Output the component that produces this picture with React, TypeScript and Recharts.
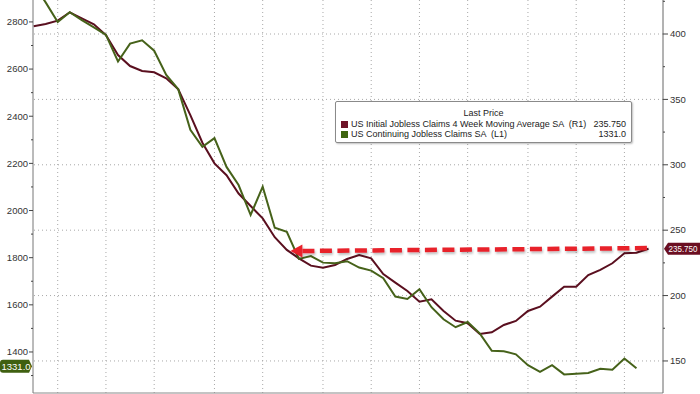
import React from 'react';
import { ComposedChart, Line, XAxis, YAxis, ReferenceLine, Legend } from 'recharts';

// Weekly observations (index = week number in the window)
const weeks = Array.from({ length: 52 }, (_, i) => i);

// US Initial Jobless Claims 4 Week Moving Average SA (thousands, right axis)
const initialClaims4wk = [
  406, 407.6, 410.2, 416.6, 412, 407.4, 399.2, 383.9, 375.5, 371.7,
  370.7, 366.1, 357.7, 338, 316.9, 301.1, 292, 278, 268.5, 259,
  244.6, 234.9, 228.5, 222.9, 221.3, 223.4, 228, 231, 228.5, 216.5,
  209.9, 203.5, 195.3, 197.2, 188.2, 180.8, 178.8, 170.6, 171.9, 177.5,
  180.6, 188.2, 191.5, 199.2, 206.8, 206.8, 215.7, 219.6, 224.7, 232.3,
  232.8, 235.75,
];

// US Continuing Jobless Claims SA (thousands, left axis)
const continuingClaims: (number | null)[] = [
  2960, 2883, 2800, 2841, 2808, 2777, 2745, 2632, 2708, 2722,
  2678, 2575, 2514, 2342, 2270, 2307, 2185, 2108, 1981, 2101,
  1927, 1910, 1795, 1807, 1779, 1776, 1785, 1758, 1745, 1713,
  1635, 1625, 1666, 1590, 1539, 1505, 1527, 1479, 1405, 1403,
  1390, 1344, 1316, 1344, 1305, 1308, 1311, 1329, 1325, 1372,
  1331, null,
];

const monthStarts = [2, 6, 10, 15, 19, 24, 28, 32, 36, 41, 45, 49];
const leftTicks = [1300, 1400, 1500, 1600, 1700, 1800, 1900, 2000, 2100, 2200, 2300, 2400, 2500, 2600, 2700, 2800];
const rightTicks = [150, 175, 200, 225, 250, 275, 300, 325, 350, 375, 400, 425];
const rightGridValues = [150, 200, 250, 300, 350, 400];

const xDomain = [-0.05, 52.2];
const leftDomain = [1226, 2893];
const rightDomain = [125.5, 426];

const lastInitial = 235.75;
const lastContinuing = 1331.0;
const lastInitialLabel = '235.750';
const lastContinuingLabel = '1331.0';

const arrowFrom = { week: 21.3, value: 234 };
const arrowTo = { week: 51, value: 236.3 };

const legendTitle = 'Last Price';
const legendRows = [
  { name: 'US Initial Jobless Claims 4 Week Moving Average SA  (R1)', value: lastInitialLabel, color: '#6e1428' },
  { name: 'US Continuing Jobless Claims SA  (L1)', value: lastContinuingLabel, color: '#3f6510' },
];

const MAROON = '#5a0f1f';
const GREEN = '#46621a';
const FONT = '"Liberation Sans", Arial, sans-serif';

const data = weeks.map((w, i) => ({
  week: w,
  initial: initialClaims4wk[i],
  continuing: continuingClaims[i],
}));

const LeftTick = (props: any) => {
  const { x, y, payload } = props;
  const major = payload.value % 200 === 0;
  return (
    <g>
      <line x1={x - (major ? 4 : 2)} x2={x} y1={y} y2={y} stroke="#444" strokeWidth={1} />
      {major && (
        <text x={x - 5} y={y} dy={3.3} textAnchor="end" fontSize={9.5} fill="#333" fontFamily={FONT}>
          {payload.value}
        </text>
      )}
    </g>
  );
};

const RightTick = (props: any) => {
  const { x, y, payload } = props;
  const major = payload.value % 50 === 0;
  return (
    <g>
      <line x1={x} x2={x + (major ? 5 : 2)} y1={y} y2={y} stroke="#444" strokeWidth={1} />
      {major && (
        <text x={x + 7} y={y} dy={3.3} textAnchor="start" fontSize={9.5} fill="#333" fontFamily={FONT}>
          {payload.value}
        </text>
      )}
    </g>
  );
};

const RightBadge = (props: any) => {
  const vb = props.viewBox || {};
  const x0 = vb.x + vb.width + 1;
  const y = vb.y;
  const h = 12;
  const w = 700 - x0;
  return (
    <g>
      <path
        d={`M${x0} ${y} L${x0 + 4} ${y - h / 2} L${x0 + w} ${y - h / 2} L${x0 + w} ${y + h / 2} L${x0 + 4} ${y + h / 2} Z`}
        fill="#6b0f22"
      />
      <text
        x={x0 + 4.5}
        y={y}
        dy={3.2}
        fontSize={9}
        fill="#fff"
        fontFamily={FONT}
        textLength={29}
        lengthAdjust="spacingAndGlyphs"
      >
        {lastInitialLabel}
      </text>
    </g>
  );
};

const LeftBadge = (props: any) => {
  const vb = props.viewBox || {};
  const xr = vb.x - 1;
  const y = vb.y - 2;
  const h = 13;
  return (
    <g>
      <path
        d={`M${xr} ${y} L${xr - 3} ${y - h / 2} L3 ${y - h / 2} Q0 ${y - h / 2} 0 ${y - h / 2 + 3} L0 ${y + h / 2 - 3} Q0 ${y + h / 2} 3 ${y + h / 2} L${xr - 3} ${y + h / 2} Z`}
        fill="#3f6010"
      />
      <text x={1.5} y={y} dy={3.4} fontSize={9.5} fill="#fff" fontFamily={FONT}>
        {lastContinuingLabel}
      </text>
    </g>
  );
};

const ArrowShape = (props: any) => {
  const { x1, y1, x2, y2 } = props;
  if ([x1, y1, x2, y2].some((v) => typeof v !== 'number' || isNaN(v))) return <g />;
  const dx = x2 - x1;
  const dy = y2 - y1;
  const len = Math.sqrt(dx * dx + dy * dy) || 1;
  const ux = dx / len;
  const uy = dy / len;
  const headLen = 12;
  const half = 6.5;
  const bx = x1 + ux * headLen;
  const by = y1 + uy * headLen;
  const px = -uy;
  const py = ux;
  return (
    <g>
      <defs>
        <filter id="arrowShadow" x="-5%" y="-100%" width="110%" height="300%">
          <feDropShadow dx="1" dy="2" stdDeviation="1.2" floodColor="#000" floodOpacity="0.25" />
        </filter>
      </defs>
      <g filter="url(#arrowShadow)">
        <line x1={bx} y1={by} x2={x2} y2={y2} stroke="#e8202c" strokeWidth={4.5} strokeDasharray="12 5.5" />
        <polygon
          points={`${x1},${y1} ${bx + px * half},${by + py * half} ${bx - px * half},${by - py * half}`}
          fill="#e8202c"
        />
      </g>
    </g>
  );
};

const LegendBox = () => (
  <div
    style={{
      width: 297,
      height: 42,
      boxSizing: 'border-box',
      border: '1px solid #8a8a8a',
      borderRadius: 2,
      background: '#fff',
      boxShadow: '1px 1px 2px rgba(0,0,0,0.25)',
      fontFamily: FONT,
      fontSize: 9,
      color: '#222',
      lineHeight: '10px',
      padding: '6px 5px 0 5px',
    }}
  >
    <div style={{ textAlign: 'center', marginBottom: 1 }}>{legendTitle}</div>
    {legendRows.map((r) => (
      <div key={r.name} style={{ display: 'flex', alignItems: 'center', height: 10 }}>
        <span style={{ display: 'inline-block', width: 7, height: 7, background: r.color, marginRight: 3 }} />
        <span style={{ flex: 1, whiteSpace: 'pre' }}>{r.name}</span>
        <span>{r.value}</span>
      </div>
    ))}
  </div>
);

export default function App() {
  return (
    <div style={{ position: 'absolute', left: 0, top: 0, width: 700, height: 394, background: '#fff' }}>
      <ComposedChart width={700} height={394} data={data} margin={{ top: 0, right: 0, bottom: 0, left: 0 }}>
        <XAxis
          dataKey="week"
          type="number"
          domain={xDomain}
          allowDataOverflow
          ticks={monthStarts}
          tick={false}
          tickLine={false}
          height={1}
          axisLine={{ stroke: '#888' }}
        />
        <YAxis
          yAxisId="left"
          orientation="left"
          domain={leftDomain}
          allowDataOverflow
          ticks={leftTicks}
          interval={0}
          tick={<LeftTick />}
          tickLine={false}
          tickSize={0}
          tickMargin={0}
          width={33}
          axisLine={{ stroke: '#777' }}
        />
        <YAxis
          yAxisId="right"
          orientation="right"
          domain={rightDomain}
          allowDataOverflow
          ticks={rightTicks}
          interval={0}
          tick={<RightTick />}
          tickLine={false}
          tickSize={0}
          tickMargin={0}
          width={37}
          axisLine={{ stroke: '#666' }}
        />
        {monthStarts.map((m) => (
          <ReferenceLine key={'v' + m} x={m} yAxisId="left" stroke="#a8a8a8" strokeDasharray="1 3" />
        ))}
        {rightGridValues.map((v) => (
          <ReferenceLine key={'h' + v} y={v} yAxisId="right" stroke="#a8a8a8" strokeDasharray="1 3" />
        ))}
        <Line
          yAxisId="right"
          type="linear"
          dataKey="initial"
          stroke={MAROON}
          strokeWidth={2}
          dot={false}
          isAnimationActive={false}
          connectNulls={false}
        />
        <Line
          yAxisId="left"
          type="linear"
          dataKey="continuing"
          stroke={GREEN}
          strokeWidth={2}
          dot={false}
          isAnimationActive={false}
        />
        <ReferenceLine
          yAxisId="right"
          segment={[
            { x: arrowFrom.week, y: arrowFrom.value },
            { x: arrowTo.week, y: arrowTo.value },
          ]}
          shape={<ArrowShape />}
        />
        <ReferenceLine yAxisId="right" y={lastInitial} stroke="none" label={<RightBadge />} />
        <ReferenceLine yAxisId="left" y={lastContinuing} stroke="none" label={<LeftBadge />} />
        <Legend
          layout="vertical"
          align="center"
          verticalAlign="middle"
          content={<LegendBox />}
          wrapperStyle={{ position: 'absolute', left: 335, top: 101, width: 297, height: 42 }}
        />
      </ComposedChart>
    </div>
  );
}
